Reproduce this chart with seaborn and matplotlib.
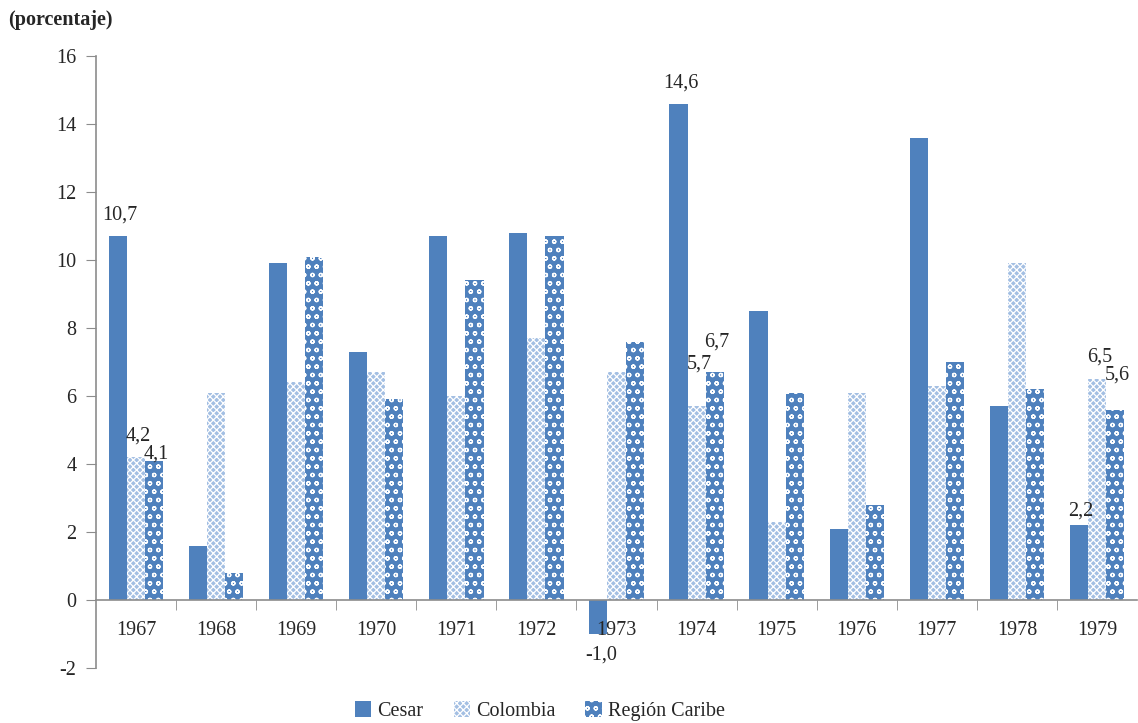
import numpy as np
import pandas as pd
import matplotlib
matplotlib.use("Agg")
import matplotlib.pyplot as plt
import seaborn as sns

years = ["1967", "1968", "1969", "1970", "1971", "1972", "1973",
         "1974", "1975", "1976", "1977", "1978", "1979"]
cesar = [10.7, 1.6, 9.9, 7.3, 10.7, 10.8, -1.0, 14.6, 8.5, 2.1, 13.6, 5.7, 2.2]
colombia = [4.2, 6.1, 6.4, 6.7, 6.0, 7.7, 6.7, 5.7, 2.3, 6.1, 6.3, 9.9, 6.5]
caribe = [4.1, 0.8, 10.1, 5.9, 9.4, 10.7, 7.6, 6.7, 6.1, 2.8, 7.0, 6.2, 5.6]
series = ["Cesar", "Colombia", "Región Caribe"]
# labelled bars (year index, series) -> gap in pixels between bar end and label centre
labeled = {(0, "Cesar"): 21, (0, "Colombia"): 21, (0, "Región Caribe"): 7,
           (6, "Cesar"): 21,
           (7, "Cesar"): 21, (7, "Colombia"): 42, (7, "Región Caribe"): 30,
           (12, "Cesar"): 14, (12, "Colombia"): 22, (12, "Región Caribe"): 35}

df = pd.DataFrame({
    "year": years * 3,
    "serie": [s for s in series for _ in years],
    "valor": cesar + colombia + caribe,
})

BLUE = "#4f81bd"
LIGHT = "#a3bfe3"
GREY = "#8c8c8c"
FS = 14.5
PX = 34.0  # pixels per y unit

sns.set_style("white")
plt.rcParams["font.family"] = ["Liberation Serif", "DejaVu Serif"]
plt.rcParams["hatch.linewidth"] = 0.9
plt.rcParams["axes.unicode_minus"] = False

fig = plt.figure(figsize=(11.38, 7.23), dpi=100)
ax = fig.add_axes([96 / 1138, 1 - 668 / 723, 1 - 97 / 1138, (668 - 56) / 723])

sns.barplot(data=df, x="year", y="valor", hue="serie", order=years,
            hue_order=series, palette=[BLUE, LIGHT, BLUE], width=0.68,
            gap=0, errorbar=None, saturation=1, ax=ax, legend=True)

# fills: plain, fine check, bubbles
styles = {"Cesar": (BLUE, None, BLUE),
          "Colombia": (LIGHT, "xxxxx", "white"),
          "Región Caribe": (BLUE, "oo", "white")}
for cont, name in zip(ax.containers, series):
    fc, hatch, ec = styles[name]
    for bar in cont:
        bar.set_facecolor(fc)
        bar.set_edgecolor(ec)
        bar.set_linewidth(0)
        if hatch:
            bar.set_hatch(hatch)

# data labels
for (yi, name), gap in labeled.items():
    bar = ax.containers[series.index(name)][yi]
    v = bar.get_height()
    xc = bar.get_x() + bar.get_width() / 2
    txt = f"{v:.1f}".replace(".", ",")
    ypos = v + gap / PX if v >= 0 else v - gap / PX
    ax.text(xc + 0.03, ypos, txt, ha="center", va="center", fontsize=FS)

ax.set_ylim(-2, 16)
ax.set_xlim(-0.5, 12.5)
ax.set_yticks(np.arange(-2, 17, 2))
ax.set_xlabel("")
ax.set_ylabel("")
ax.set_axisbelow(False)

for s in ["top", "right"]:
    ax.spines[s].set_visible(False)
ax.spines["bottom"].set_position(("data", 0))
for s in ["left", "bottom"]:
    ax.spines[s].set_color(GREY)
    ax.spines[s].set_linewidth(1.2)

ax.set_xticks(np.arange(0.5, 12.5, 1), minor=True)
ax.tick_params(axis="x", which="major", length=0, pad=15, labelsize=FS)
ax.tick_params(axis="x", which="minor", length=7, color=GREY, direction="out", bottom=True)
ax.tick_params(axis="y", length=7, color=GREY, direction="out", left=True,
               labelsize=FS, pad=7)

fig.text(8 / 1138, 1 - 20 / 723, "(porcentaje)", fontsize=FS, fontweight="bold",
         va="center", ha="left")

handles, labels = ax.get_legend_handles_labels()
ax.get_legend().remove()
fig.legend(handles, labels, loc="center", bbox_to_anchor=(540 / 1138, 1 - 711 / 723),
           ncol=3, frameon=False, fontsize=FS, handlelength=0.8, handleheight=0.8,
           columnspacing=1.5, handletextpad=0.3)
for h, name in zip(fig.legends[0].legend_handles, series):
    fc, hatch, ec = styles[name]
    h.set_facecolor(fc)
    h.set_edgecolor(ec)
    h.set_linewidth(0)
    if hatch:
        h.set_hatch(hatch)

fig.savefig("out.png", dpi=100)
